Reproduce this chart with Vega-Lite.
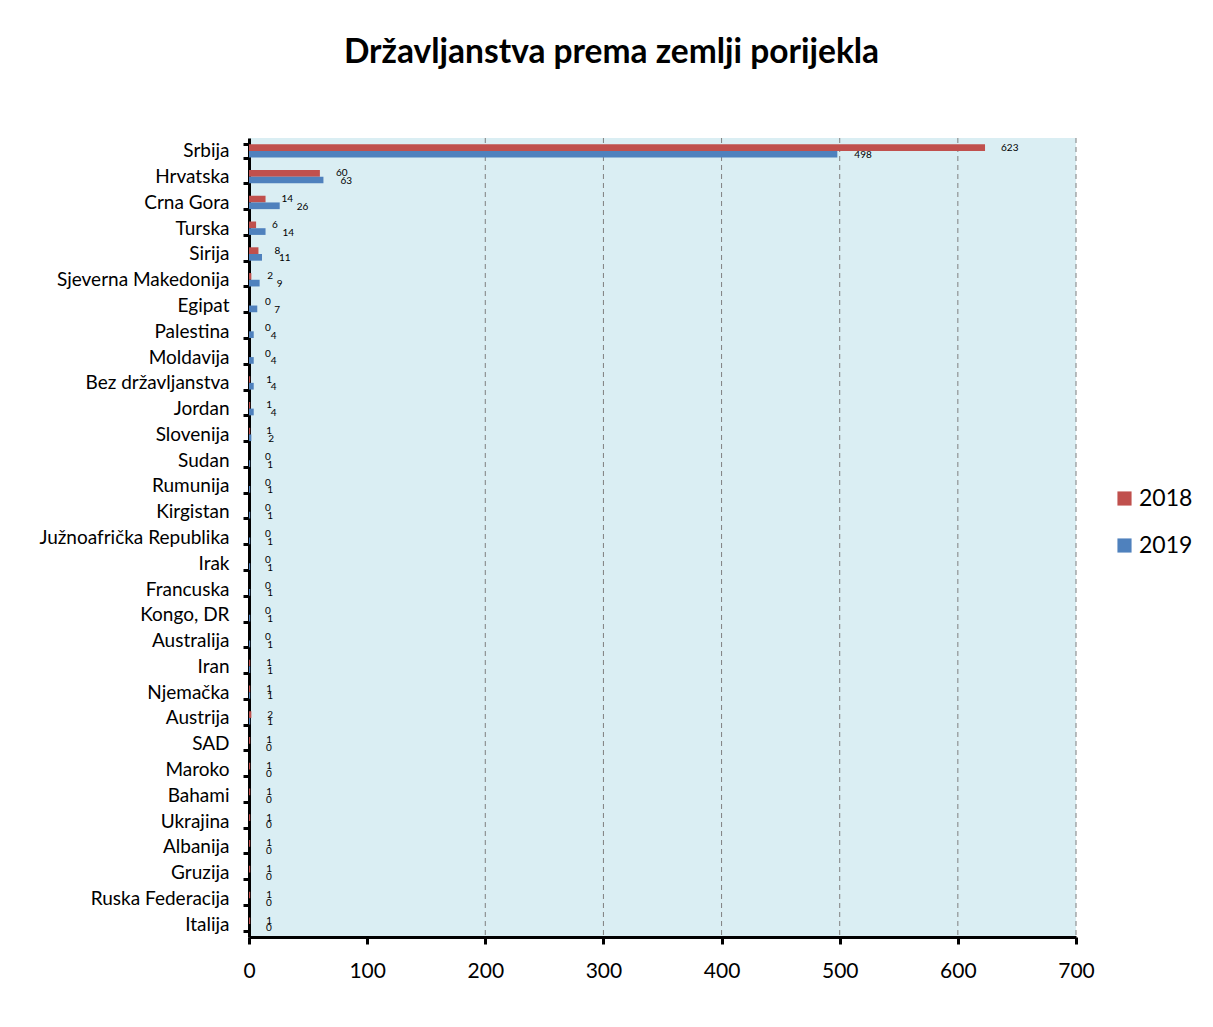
{
  "$schema": "https://vega.github.io/schema/vega-lite/v6.json",
  "width": 827,
  "height": 799,
  "autosize": {"type": "none"},
  "padding": {"left": 249, "top": 138, "right": 137, "bottom": 90},
  "background": "white",
  "title": {
    "text": "Državljanstva prema zemlji porijekla",
    "font": "Lato",
    "fontSize": 33.5,
    "fontWeight": "bold",
    "color": "#000000",
    "anchor": "middle",
    "dx": -51,
    "offset": 59
  },
  "config": {
    "view": {"fill": "#DAEEF3", "stroke": null},
    "font": "Lato"
  },
  "datasets": {
    "grid": [{"g": 200}, {"g": 300}, {"g": 400}, {"g": 500}, {"g": 600}, {"g": 700}]
  },
  "data": {
    "values": [
      {"country": "Srbija", "year": "2018", "value": 623},
      {"country": "Srbija", "year": "2019", "value": 498},
      {"country": "Hrvatska", "year": "2018", "value": 60},
      {"country": "Hrvatska", "year": "2019", "value": 63},
      {"country": "Crna Gora", "year": "2018", "value": 14},
      {"country": "Crna Gora", "year": "2019", "value": 26},
      {"country": "Turska", "year": "2018", "value": 6},
      {"country": "Turska", "year": "2019", "value": 14},
      {"country": "Sirija", "year": "2018", "value": 8},
      {"country": "Sirija", "year": "2019", "value": 11},
      {"country": "Sjeverna Makedonija", "year": "2018", "value": 2},
      {"country": "Sjeverna Makedonija", "year": "2019", "value": 9},
      {"country": "Egipat", "year": "2018", "value": 0},
      {"country": "Egipat", "year": "2019", "value": 7},
      {"country": "Palestina", "year": "2018", "value": 0},
      {"country": "Palestina", "year": "2019", "value": 4},
      {"country": "Moldavija", "year": "2018", "value": 0},
      {"country": "Moldavija", "year": "2019", "value": 4},
      {"country": "Bez državljanstva", "year": "2018", "value": 1},
      {"country": "Bez državljanstva", "year": "2019", "value": 4},
      {"country": "Jordan", "year": "2018", "value": 1},
      {"country": "Jordan", "year": "2019", "value": 4},
      {"country": "Slovenija", "year": "2018", "value": 1},
      {"country": "Slovenija", "year": "2019", "value": 2},
      {"country": "Sudan", "year": "2018", "value": 0},
      {"country": "Sudan", "year": "2019", "value": 1},
      {"country": "Rumunija", "year": "2018", "value": 0},
      {"country": "Rumunija", "year": "2019", "value": 1},
      {"country": "Kirgistan", "year": "2018", "value": 0},
      {"country": "Kirgistan", "year": "2019", "value": 1},
      {"country": "Južnoafrička Republika", "year": "2018", "value": 0},
      {"country": "Južnoafrička Republika", "year": "2019", "value": 1},
      {"country": "Irak", "year": "2018", "value": 0},
      {"country": "Irak", "year": "2019", "value": 1},
      {"country": "Francuska", "year": "2018", "value": 0},
      {"country": "Francuska", "year": "2019", "value": 1},
      {"country": "Kongo, DR", "year": "2018", "value": 0},
      {"country": "Kongo, DR", "year": "2019", "value": 1},
      {"country": "Australija", "year": "2018", "value": 0},
      {"country": "Australija", "year": "2019", "value": 1},
      {"country": "Iran", "year": "2018", "value": 1},
      {"country": "Iran", "year": "2019", "value": 1},
      {"country": "Njemačka", "year": "2018", "value": 1},
      {"country": "Njemačka", "year": "2019", "value": 1},
      {"country": "Austrija", "year": "2018", "value": 2},
      {"country": "Austrija", "year": "2019", "value": 1},
      {"country": "SAD", "year": "2018", "value": 1},
      {"country": "SAD", "year": "2019", "value": 0},
      {"country": "Maroko", "year": "2018", "value": 1},
      {"country": "Maroko", "year": "2019", "value": 0},
      {"country": "Bahami", "year": "2018", "value": 1},
      {"country": "Bahami", "year": "2019", "value": 0},
      {"country": "Ukrajina", "year": "2018", "value": 1},
      {"country": "Ukrajina", "year": "2019", "value": 0},
      {"country": "Albanija", "year": "2018", "value": 1},
      {"country": "Albanija", "year": "2019", "value": 0},
      {"country": "Gruzija", "year": "2018", "value": 1},
      {"country": "Gruzija", "year": "2019", "value": 0},
      {"country": "Ruska Federacija", "year": "2018", "value": 1},
      {"country": "Ruska Federacija", "year": "2019", "value": 0},
      {"country": "Italija", "year": "2018", "value": 1},
      {"country": "Italija", "year": "2019", "value": 0}
    ]
  },
  "layer": [
    {
      "data": {"name": "grid"},
      "mark": {"type": "rule", "color": "#7f7f7f", "strokeDash": [5, 4], "strokeWidth": 1},
      "encoding": {
        "x": {"field": "g", "type": "quantitative", "scale": {"domain": [0, 700]}}
      }
    },
    {
      "mark": {"type": "bar", "orient": "horizontal"},
      "encoding": {
        "y": {
          "field": "country",
          "type": "nominal",
          "sort": null,
          "scale": {"paddingInner": 0.48, "paddingOuter": 0.24},
          "axis": {
            "title": null,
            "tickBand": "extent",
            "domainColor": "#000000",
            "domainWidth": 3,
            "tickColor": "#000000",
            "tickWidth": 3,
            "tickSize": 6,
            "labelFontSize": 19,
            "labelLimit": 400,
            "labelColor": "#000000",
            "labelPadding": 14,
            "labelFont": "Lato"
          }
        },
        "yOffset": {"field": "year", "type": "nominal", "sort": ["2018", "2019"]},
        "x": {
          "field": "value",
          "type": "quantitative",
          "scale": {"domain": [0, 700]},
          "axis": {
            "title": null,
            "values": [0, 100, 200, 300, 400, 500, 600, 700],
            "grid": false,
            "labelFlush": false,
            "domainColor": "#000000",
            "domainWidth": 3,
            "tickColor": "#000000",
            "tickWidth": 3,
            "tickSize": 7,
            "labelFontSize": 21,
            "labelColor": "#000000",
            "labelPadding": 16,
            "labelFont": "Lato"
          }
        },
        "color": {
          "field": "year",
          "type": "nominal",
          "scale": {"domain": ["2018", "2019"], "range": ["#C0504D", "#4F81BD"]},
          "legend": {
            "title": null,
            "orient": "none",
            "legendX": 864,
            "legendY": 349,
            "symbolType": "square",
            "symbolSize": 200,
            "symbolStrokeWidth": 0,
            "labelFontSize": 23,
            "labelColor": "#000000",
            "labelFont": "Lato",
            "rowPadding": 23,
            "labelOffset": 3
          }
        }
      }
    },
    {
      "transform": [{"filter": "datum.year === '2018'"}],
      "mark": {"type": "text", "align": "left", "baseline": "middle", "dx": 16, "dy": 0, "fontSize": 10, "color": "#000000", "font": "Lato"},
      "encoding": {
        "y": {"field": "country", "type": "nominal", "sort": null},
        "yOffset": {"field": "year", "type": "nominal", "sort": ["2018", "2019"]},
        "x": {"field": "value", "type": "quantitative"},
        "text": {"field": "value", "type": "quantitative"}
      }
    },
    {
      "transform": [{"filter": "datum.year === '2019'"}],
      "mark": {"type": "text", "align": "left", "baseline": "middle", "dx": 17, "dy": 1, "fontSize": 10, "color": "#000000", "font": "Lato"},
      "encoding": {
        "y": {"field": "country", "type": "nominal", "sort": null},
        "yOffset": {"field": "year", "type": "nominal", "sort": ["2018", "2019"]},
        "x": {"field": "value", "type": "quantitative"},
        "text": {"field": "value", "type": "quantitative"}
      }
    }
  ]
}
